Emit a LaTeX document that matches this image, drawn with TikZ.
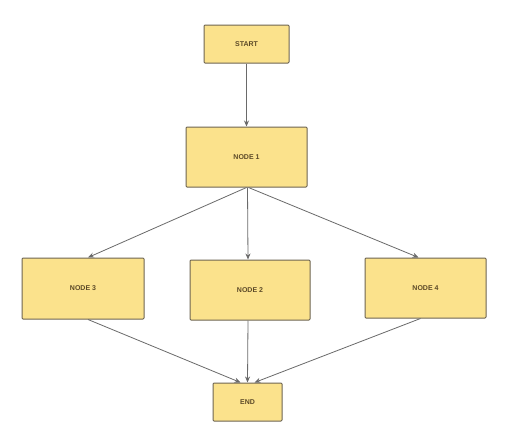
\documentclass[tikz,border=0pt]{standalone}
\usepackage{fontspec}
\setmainfont{Liberation Sans}
\usetikzlibrary{arrows.meta}
\definecolor{boxfill}{HTML}{FBE28C}
\definecolor{boxline}{HTML}{6E6552}
\definecolor{txt}{HTML}{5C4A28}
\definecolor{arr}{HTML}{6A6A6A}
\tikzset{
  box/.style={draw=boxline, fill=boxfill, line width=1pt, rounded corners=1pt,
    font=\fontsize{7}{8}\selectfont\bfseries, text=txt, inner sep=0pt, anchor=center},
  conn/.style={draw=arr, line width=0.8pt, -{Stealth[length=6pt,width=5pt]}}
}
\begin{document}
\begin{tikzpicture}[x=1pt,y=-1pt]
\useasboundingbox (0,0) rectangle (515,442);
\fill[white] (0,0) rectangle (515,442);
\node[box, minimum width=85pt, minimum height=38pt] (start) at (246.5,44) {START};
\node[box, minimum width=121pt, minimum height=60pt] (n1) at (246.5,157) {NODE 1};
\node[box, minimum width=122pt, minimum height=61pt] (n3) at (83,288.5) {NODE 3};
\node[box, minimum width=120pt, minimum height=60pt] (n2) at (250,290) {NODE 2};
\node[box, minimum width=121pt, minimum height=60pt] (n4) at (425.5,288) {NODE 4};
\node[box, minimum width=69pt, minimum height=38pt] (end) at (247.5,402) {END};
\draw[conn] (start.south) -- (n1.north);
\draw[conn] (n1.south) -- ([xshift=5pt]n3.north);
\draw[conn] ([xshift=1pt]n1.south) -- ([xshift=-2pt]n2.north);
\draw[conn] ([xshift=2pt]n1.south) -- ([xshift=-7pt]n4.north);
\draw[conn] ([xshift=5pt]n3.south) -- ([xshift=-7pt]end.north);
\draw[conn] ([xshift=-2pt]n2.south) -- ([xshift=0pt]end.north);
\draw[conn] ([xshift=-5pt]n4.south) -- ([xshift=7pt]end.north);
\end{tikzpicture}
\end{document}
